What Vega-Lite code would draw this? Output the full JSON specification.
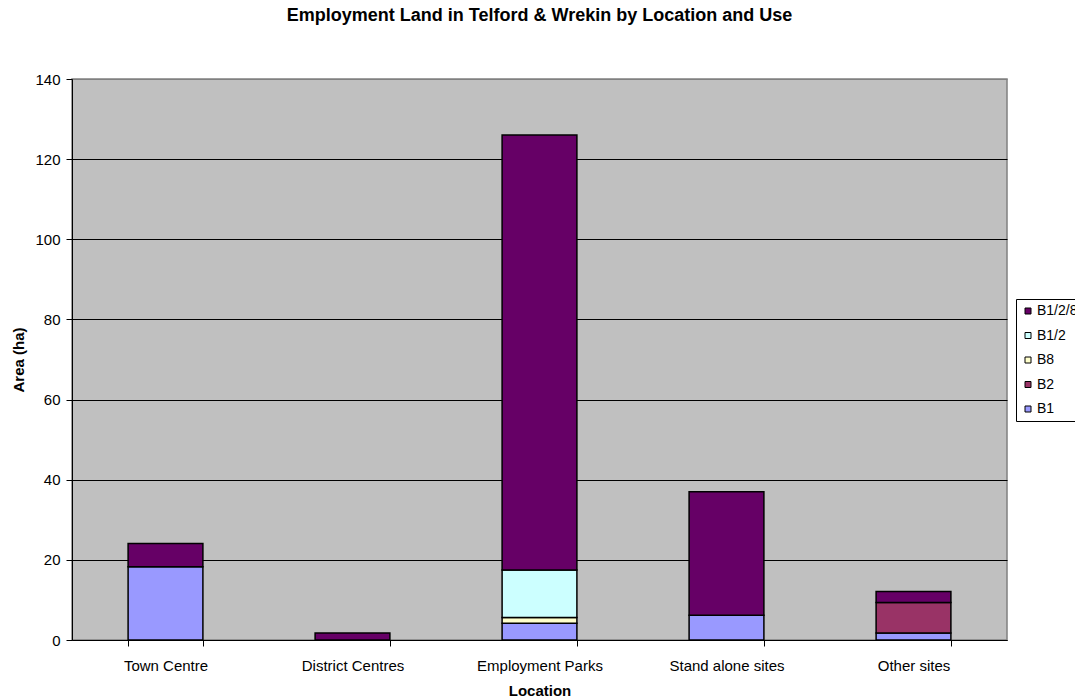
{
  "$schema": "https://vega.github.io/schema/vega-lite/v6.json",
  "autosize": {"type": "none"},
  "width": 935,
  "height": 561,
  "padding": {"left": 72, "top": 79, "right": 68, "bottom": 59},
  "background": "white",
  "title": {
    "text": "Employment Land in Telford & Wrekin by Location and Use",
    "font": "Liberation Sans",
    "fontSize": 18,
    "fontWeight": "bold",
    "color": "black",
    "anchor": "middle",
    "offset": 47
  },
  "config": {
    "font": "Liberation Sans",
    "view": {"fill": "#C0C0C0", "stroke": "#808080", "strokeWidth": 1.5}
  },
  "data": {
    "values": [
      {"location": "Town Centre", "use": "B1", "area": 18.3},
      {"location": "Town Centre", "use": "B1/2/8", "area": 5.8},
      {"location": "District Centres", "use": "B1/2/8", "area": 1.75},
      {"location": "Employment Parks", "use": "B1", "area": 4.2},
      {"location": "Employment Parks", "use": "B8", "area": 1.4},
      {"location": "Employment Parks", "use": "B1/2", "area": 11.9},
      {"location": "Employment Parks", "use": "B1/2/8", "area": 108.5},
      {"location": "Stand alone sites", "use": "B1", "area": 6.2},
      {"location": "Stand alone sites", "use": "B1/2/8", "area": 30.8},
      {"location": "Other sites", "use": "B1", "area": 1.75},
      {"location": "Other sites", "use": "B2", "area": 7.6},
      {"location": "Other sites", "use": "B1/2/8", "area": 2.75}
    ]
  },
  "transform": [
    {"calculate": "indexof(['B1','B2','B8','B1/2','B1/2/8'], datum.use)", "as": "use_order"}
  ],
  "mark": {"type": "bar", "stroke": "black", "strokeWidth": 1.5, "opacity": 1},
  "encoding": {
    "x": {
      "field": "location",
      "type": "nominal",
      "sort": ["Town Centre", "District Centres", "Employment Parks", "Stand alone sites", "Other sites"],
      "scale": {"paddingInner": 0.6, "paddingOuter": 0.3},
      "axis": {
        "title": "Location",
        "titleFont": "Liberation Sans",
        "titleFontSize": 15,
        "titleFontWeight": "bold",
        "titleColor": "black",
        "titlePadding": 10,
        "labelAngle": 0,
        "labelFont": "Liberation Sans",
        "labelFontSize": 15,
        "labelColor": "black",
        "labelPadding": 12,
        "tickBand": "extent",
        "tickColor": "black",
        "tickSize": 6,
        "domainColor": "black",
        "grid": false
      }
    },
    "y": {
      "field": "area",
      "type": "quantitative",
      "aggregate": "sum",
      "stack": "zero",
      "scale": {"domain": [0, 140], "nice": false},
      "axis": {
        "title": "Area (ha)",
        "titleFont": "Liberation Sans",
        "titleFontSize": 15,
        "titleFontWeight": "bold",
        "titleColor": "black",
        "titlePadding": 8,
        "values": [0, 20, 40, 60, 80, 100, 120, 140],
        "labelFont": "Liberation Sans",
        "labelFontSize": 15,
        "labelColor": "black",
        "labelPadding": 6,
        "tickColor": "black",
        "tickSize": 6,
        "domainColor": "black",
        "grid": true,
        "gridColor": {"condition": {"test": "datum.value == 140", "value": "#808080"}, "value": "black"},
        "gridWidth": 1
      }
    },
    "color": {
      "field": "use",
      "type": "nominal",
      "scale": {
        "domain": ["B1/2/8", "B1/2", "B8", "B2", "B1"],
        "range": ["#660066", "#CCFFFF", "#FFFFCC", "#993366", "#9999FF"]
      },
      "legend": {
        "title": null,
        "orient": "none",
        "legendX": 944,
        "legendY": 220,
        "symbolType": "square",
        "symbolSize": 36,
        "symbolStrokeColor": "black",
        "symbolStrokeWidth": 1,
        "symbolOpacity": 1,
        "labelFont": "Liberation Sans",
        "labelFontSize": 14,
        "labelColor": "black",
        "labelOffset": 2,
        "rowPadding": 10.5,
        "strokeColor": "black",
        "fillColor": "white",
        "padding": 5
      }
    },
    "order": {"field": "use_order", "type": "quantitative"}
  }
}
